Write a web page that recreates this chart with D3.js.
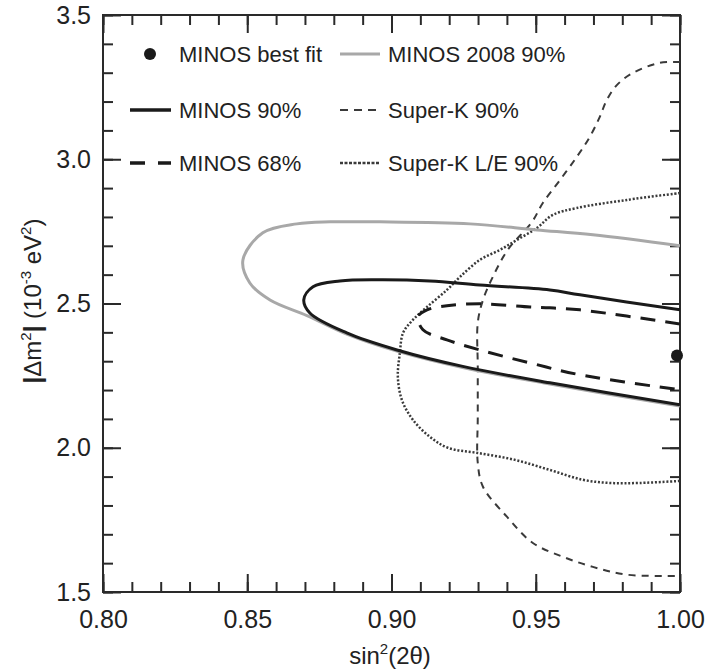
<!DOCTYPE html>
<html><head><meta charset="utf-8">
<script src="https://cdn.jsdelivr.net/npm/d3@7"></script>
<style>body{margin:0;background:#fff}svg{display:block}text{font-family:"Liberation Sans",Arial,sans-serif;fill:#222}</style>
</head><body><svg id="c" width="708" height="671"></svg>
<script>
// ---- data (sin^2(2θ), |Δm²| in 1e-3 eV²) ----
const xTicks = [0.80, 0.85, 0.90, 0.95, 1.00];
const yTicks = [1.5, 2.0, 2.5, 3.0, 3.5];
const bestFit = [[1.00, 2.32]];
const minos2008 = [[1.0,2.700],[0.9698,2.738],[0.9504,2.755],[0.9272,2.776],[0.8960,2.783],[0.8787,2.783],[0.8672,2.776],[0.8554,2.745],[0.8485,2.651],[0.8509,2.571],[0.8579,2.512],[0.8707,2.458],[0.8845,2.394],[0.9019,2.335],[0.9247,2.278],[0.9549,2.221],[1.0,2.145]];
const minos90 = [[1.0,2.478],[0.9653,2.530],[0.9549,2.547],[0.9306,2.564],[0.9133,2.578],[0.8960,2.582],[0.8821,2.578],[0.8728,2.558],[0.8696,2.513],[0.8717,2.467],[0.8845,2.398],[0.9019,2.339],[0.9247,2.282],[0.9549,2.225],[1.0,2.149]];
const minos68 = [[1.0,2.429],[0.9653,2.478],[0.9549,2.485],[0.9480,2.488],[0.9306,2.499],[0.9192,2.492],[0.9123,2.478],[0.9092,2.454],[0.9109,2.409],[0.9192,2.374],[0.9306,2.339],[0.9480,2.294],[0.9653,2.253],[1.0,2.201]];
const superK = [[1.0,3.337],[0.9930,3.334],[0.9836,3.299],[0.9781,3.257],[0.9746,3.205],[0.9722,3.147],[0.9687,3.077],[0.9642,3.008],[0.9584,2.928],[0.9525,2.849],[0.9487,2.783],[0.9403,2.686],[0.9351,2.592],[0.9317,2.512],[0.9299,2.433],[0.9299,2.280],[0.9299,2.107],[0.9299,1.948],[0.9317,1.865],[0.9400,1.761],[0.9490,1.670],[0.9594,1.622],[0.9698,1.587],[0.9816,1.560],[1.0,1.556]];
const superKLE = [[1.0,2.883],[0.9816,2.859],[0.9642,2.831],[0.9559,2.807],[0.9504,2.762],[0.9434,2.720],[0.9376,2.686],[0.9306,2.651],[0.9237,2.592],[0.9192,2.547],[0.9123,2.488],[0.9074,2.443],[0.9040,2.398],[0.9029,2.329],[0.9022,2.246],[0.9036,2.166],[0.9074,2.097],[0.9133,2.038],[0.9195,2.000],[0.9299,1.982],[0.9428,1.958],[0.9549,1.923],[0.9663,1.889],[0.9757,1.878],[0.9861,1.878],[1.0,1.885]];
const legendLabels = ["MINOS best fit","MINOS 90%","MINOS 68%","MINOS 2008 90%","Super-K 90%","Super-K L/E 90%"];

// ---- layout ----
const W=708,H=671,m={l:103,r:28,t:15,b:79};
const svg=d3.select("#c");
const x=d3.scaleLinear().domain([0.80,1.00]).range([m.l,W-m.r]);
const y=d3.scaleLinear().domain([1.5,3.5]).range([H-m.b,m.t]);
const ink="#2a2a2a";

svg.append("clipPath").attr("id","clip").append("rect")
  .attr("x",m.l).attr("y",m.t).attr("width",x(1)-x(0.8)).attr("height",y(1.5)-y(3.5));

const xMinor=d3.range(0,21).map(i=>+(0.80+i*0.01).toFixed(2));
const yMinor=d3.range(0,21).map(i=>+(1.5+i*0.1).toFixed(1));

function styleAxis(g){g.select(".domain").remove();g.selectAll("line").attr("stroke",ink).attr("stroke-width",2);}
const fmtX=d3.format(".2f"),fmtY=d3.format(".1f");
svg.append("g").attr("transform",`translate(0,${y(1.5)})`)
  .call(d3.axisBottom(x).tickValues(xMinor).tickSize(-10).tickFormat("")).call(styleAxis);
svg.append("g").attr("transform",`translate(0,${y(1.5)})`)
  .call(d3.axisBottom(x).tickValues(xTicks).tickSize(-18).tickPadding(18).tickFormat(fmtX)).call(styleAxis)
  .selectAll("text").attr("font-size",25).attr("fill","#222");
svg.append("g").attr("transform",`translate(0,${y(3.5)})`)
  .call(d3.axisTop(x).tickValues(xMinor).tickSize(-10).tickFormat("")).call(styleAxis);
svg.append("g").attr("transform",`translate(0,${y(3.5)})`)
  .call(d3.axisTop(x).tickValues(xTicks).tickSize(-18).tickFormat("")).call(styleAxis);
svg.append("g").attr("transform",`translate(${x(0.8)},0)`)
  .call(d3.axisLeft(y).tickValues(yMinor).tickSize(-10).tickFormat("")).call(styleAxis);
svg.append("g").attr("transform",`translate(${x(0.8)},0)`)
  .call(d3.axisLeft(y).tickValues(yTicks).tickSize(-18).tickPadding(12).tickFormat(fmtY)).call(styleAxis)
  .selectAll("text").attr("font-size",25).attr("fill","#222");
svg.append("g").attr("transform",`translate(${x(1)},0)`)
  .call(d3.axisRight(y).tickValues(yMinor).tickSize(-10).tickFormat("")).call(styleAxis);
svg.append("g").attr("transform",`translate(${x(1)},0)`)
  .call(d3.axisRight(y).tickValues(yTicks).tickSize(-18).tickFormat("")).call(styleAxis);

svg.append("rect").attr("x",x(0.8)).attr("y",y(3.5)).attr("width",x(1)-x(0.8)).attr("height",y(1.5)-y(3.5))
  .attr("fill","none").attr("stroke",ink).attr("stroke-width",2);

// ---- curves ----
const line=d3.line().x(d=>x(d[0])).y(d=>y(d[1])).curve(d3.curveCatmullRom.alpha(0.5));
const styles={
  m08:{stroke:"#a8a8a8",w:3,dash:null},
  m90:{stroke:"#1a1a1a",w:3,dash:null},
  m68:{stroke:"#1a1a1a",w:3,dash:"15,10"},
  sk:{stroke:"#3a3a3a",w:2,dash:"7,6"},
  skle:{stroke:"#3a3a3a",w:2.5,dash:"2,1.8"}
};
const cg=svg.append("g").attr("clip-path","url(#clip)");
[[superKLE,"skle"],[superK,"sk"],[minos2008,"m08"],[minos90,"m90"],[minos68,"m68"]].forEach(([d,k])=>{
  const s=styles[k];
  cg.append("path").datum(d).attr("d",line).attr("fill","none")
    .attr("stroke",s.stroke).attr("stroke-width",s.w).attr("stroke-dasharray",s.dash);
});
svg.selectAll("circle.bf").data(bestFit).join("circle").attr("class","bf")
  .attr("cx",d=>x(d[0])-3).attr("cy",d=>y(d[1])).attr("r",6).attr("fill","#1a1a1a");

// ---- legend ----
const lg=svg.append("g");
const rows=[54,110,163];
const col1={x0:130,x1:171,tx:179}, col2={x0:340,x1:380,tx:388};
lg.append("circle").attr("cx",150).attr("cy",rows[0]).attr("r",6).attr("fill","#1a1a1a");
const legendItems=[
  [col1,rows[1],"m90"],[col1,rows[2],"m68"],
  [col2,rows[0],"m08"],[col2,rows[1],"sk"],[col2,rows[2],"skle"]];
legendItems.forEach(([c,ry,k])=>{
  const s=styles[k];
  lg.append("line").attr("x1",c.x0).attr("x2",c.x1).attr("y1",ry).attr("y2",ry)
    .attr("stroke",s.stroke).attr("stroke-width",s.w+ (k==="m90"||k==="m68"?0.5:0))
    .attr("stroke-dasharray",k==="m68"?"15,13":(k==="sk"?"8,6":(k==="skle"?"3,1.5":null)));
});
[[col1,rows[0],legendLabels[0]],[col1,rows[1],legendLabels[1]],[col1,rows[2],legendLabels[2]],
 [col2,rows[0],legendLabels[3]],[col2,rows[1],legendLabels[4]],[col2,rows[2],legendLabels[5]]].forEach(([c,ry,t])=>{
  lg.append("text").attr("x",c.tx).attr("y",ry+8).attr("font-size",22).text(t);
});

// ---- axis titles ----
const xt=svg.append("text").attr("x",390).attr("y",664).attr("text-anchor","middle").attr("font-size",24);
xt.append("tspan").text("sin");
xt.append("tspan").attr("font-size",15).attr("dy",-10).text("2");
xt.append("tspan").attr("dy",10).text("(2θ)");

const yt=svg.append("text").attr("transform","translate(41,301) rotate(-90)").attr("text-anchor","middle").attr("font-size",24);
yt.append("tspan").attr("font-weight","bold").text("|");
yt.append("tspan").text("Δm");
yt.append("tspan").attr("font-size",15).attr("dy",-10).text("2");
yt.append("tspan").attr("dy",10).attr("font-weight","bold").text("|");
yt.append("tspan").text(" (10");
yt.append("tspan").attr("font-size",15).attr("dy",-10).text("-3");
yt.append("tspan").attr("dy",10).text(" eV");
yt.append("tspan").attr("font-size",15).attr("dy",-10).text("2");
yt.append("tspan").attr("dy",10).text(")");
</script></body></html>
